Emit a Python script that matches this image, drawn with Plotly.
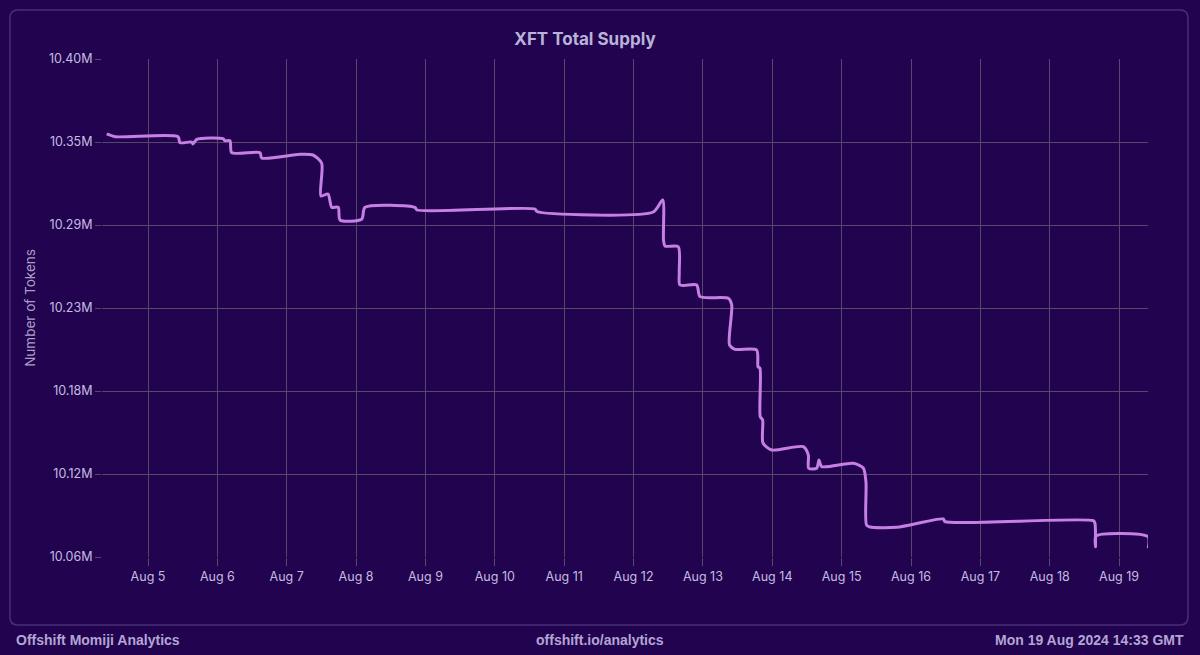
import plotly.graph_objects as go

# XFT total supply
times = [
    "2024-08-04 09:43", "2024-08-04 12:35", "2024-08-05 10:23", "2024-08-05 11:04",
    "2024-08-05 15:07", "2024-08-05 15:34", "2024-08-05 16:51", "2024-08-06 01:57",
    "2024-08-06 02:38", "2024-08-06 04:22", "2024-08-06 04:58", "2024-08-06 14:45",
    "2024-08-06 15:20", "2024-08-07 04:35", "2024-08-07 09:05", "2024-08-07 12:06",
    "2024-08-07 11:51", "2024-08-07 14:17", "2024-08-07 15:34", "2024-08-07 17:50",
    "2024-08-07 18:26", "2024-08-08 01:56", "2024-08-08 03:05", "2024-08-08 20:23",
    "2024-08-08 21:04", "2024-08-10 13:54", "2024-08-10 14:36", "2024-08-12 06:50",
    "2024-08-12 10:05", "2024-08-12 10:22", "2024-08-12 10:53", "2024-08-12 15:28",
    "2024-08-12 15:49", "2024-08-12 16:04", "2024-08-12 21:51", "2024-08-12 23:00",
    "2024-08-13 08:47", "2024-08-13 09:58", "2024-08-13 09:12", "2024-08-13 11:06",
    "2024-08-13 18:36", "2024-08-13 19:04", "2024-08-13 19:45", "2024-08-13 19:50",
    "2024-08-13 20:40", "2024-08-13 20:47", "2024-08-13 23:48", "2024-08-14 10:44",
    "2024-08-14 12:28", "2024-08-14 12:35", "2024-08-14 15:22", "2024-08-14 16:10",
    "2024-08-14 17:06", "2024-08-15 04:02", "2024-08-15 07:29", "2024-08-15 08:25",
    "2024-08-15 08:36", "2024-08-15 09:49", "2024-08-15 19:03", "2024-08-16 11:10",
    "2024-08-16 11:45", "2024-08-18 15:04", "2024-08-18 15:39", "2024-08-18 15:51",
    "2024-08-18 16:01", "2024-08-19 10:00", "2024-08-19 10:06",
]
supply = [
    10348800, 10346950, 10346950, 10342860,
    10343340, 10341970, 10345180, 10345590,
    10344220, 10344220, 10336030, 10336030,
    10332410, 10334940, 10334460, 10328800,
    10306470, 10307840, 10298760, 10298760,
    10290090, 10290560, 10298760, 10298700,
    10296910, 10297600, 10295890, 10295550,
    10303740, 10276430, 10272340, 10271860,
    10254790, 10245710, 10245710, 10237730,
    10236630, 10232060, 10204750, 10201810,
    10201340, 10189930, 10188840, 10155800,
    10153550, 10137840, 10133070, 10135320,
    10129650, 10120570, 10120570, 10126240,
    10121690, 10123980, 10120780, 10111200,
    10081860, 10080500, 10080300, 10085960,
    10084120, 10084800, 10083020, 10067050,
    10074370, 10073870, 10065960,
]

y_ticks = [10060000, 10116667, 10173333, 10230000, 10286667, 10343333, 10400000]
y_labels = ["10.06M", "10.12M", "10.18M", "10.23M", "10.29M", "10.35M", "10.40M"]

bg = "#22034f"
grid = "#554868"
text_col = "#c4bce0"

fig = go.Figure()
fig.add_trace(go.Scatter(
    x=times, y=supply, mode="lines",
    line=dict(color="#c680e4", width=3, shape="spline", smoothing=0.7),
    hoverinfo="skip",
))

fig.update_layout(
    width=1200, height=655,
    paper_bgcolor=bg, plot_bgcolor=bg,
    margin=dict(l=102, r=52, t=59, b=98),
    showlegend=False,
    title=dict(text="<b>XFT Total Supply</b>", x=0.4875, xanchor="center",
               y=0.94, yanchor="middle",
               font=dict(family="Inter", size=17, color="#b9b3d9")),
    font=dict(family="Inter", color=text_col, size=12),
    xaxis=dict(
        range=["2024-08-04 08:05", "2024-08-19 10:00"],
        tick0="2024-08-05", dtick=86400000, tickformat="%b %-d",
        showgrid=True, gridcolor=grid, gridwidth=1,
        ticks="outside", ticklen=8, tickcolor=grid,
        showline=False, zeroline=False,
        tickfont=dict(family="Inter", size=12.5, color=text_col),
    ),
    yaxis=dict(
        range=[10060000, 10400000],
        tickvals=y_ticks, ticktext=y_labels,
        showgrid=True, gridcolor=grid, gridwidth=1,
        ticks="outside", ticklen=6, tickcolor=grid,
        showline=False, zeroline=False,
        title=dict(text="Number of Tokens", standoff=10,
                   font=dict(family="Inter", size=13.5, color="#a99fc9")),
        tickfont=dict(family="Inter", size=12.5, color=text_col),
    ),
)

# rounded panel behind the chart
x0, x1, y0, y1 = -0.088, 1.0382, -0.1365, 1.0984
rx, ry = 0.0077, 0.016
panel = (f"M {x0+rx},{y0} L {x1-rx},{y0} Q {x1},{y0} {x1},{y0+ry} "
         f"L {x1},{y1-ry} Q {x1},{y1} {x1-rx},{y1} L {x0+rx},{y1} "
         f"Q {x0},{y1} {x0},{y1-ry} L {x0},{y0+ry} Q {x0},{y0} {x0+rx},{y0} Z")
fig.add_shape(type="path", path=panel, xref="paper", yref="paper",
              line=dict(color="#4a2e7a", width=1.5), fillcolor="rgba(0,0,0,0)",
              layer="below")

foot = dict(family="Liberation Sans", size=14, color="#b3a5d6")
fig.add_annotation(text="<b>Offshift Momiji Analytics</b>", xref="paper", yref="paper",
                   x=-0.0841, y=-0.167, xanchor="left", yanchor="middle",
                   showarrow=False, font=foot)
fig.add_annotation(text="<b>offshift.io/analytics</b>", xref="paper", yref="paper",
                   x=0.476, y=-0.167, xanchor="center", yanchor="middle",
                   showarrow=False, font=foot)
fig.add_annotation(text="<b>Mon 19 Aug 2024 14:33 GMT</b>", xref="paper", yref="paper",
                   x=1.0363, y=-0.167, xanchor="right", yanchor="middle",
                   showarrow=False, font=foot)

# drop the default page margin so the figure sits at the window's corner
fig.write_html("out.html", config={"displayModeBar": False},
               post_script="document.body.style.margin='0';")
